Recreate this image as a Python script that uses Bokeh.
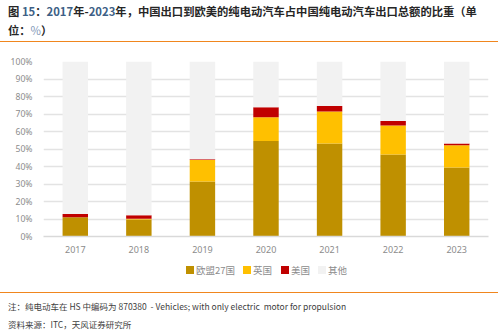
from bokeh.plotting import figure
from bokeh.models import ColumnDataSource, Div, PrintfTickFormatter, FixedTicker, Range1d
from bokeh.layouts import column
from bokeh.embed import file_html
from bokeh.resources import INLINE

years = ["2017", "2018", "2019", "2020", "2021", "2022", "2023"]
eu27 = [11.0, 9.7, 31.5, 54.6, 53.2, 46.9, 39.5]
uk = [0.0, 0.4, 12.2, 13.5, 18.3, 16.6, 12.6]
us = [1.8, 2.1, 0.5, 5.7, 3.1, 2.5, 1.1]
other = [round(100 - a - b - c, 1) for a, b, c in zip(eu27, uk, us)]
series = ["欧盟27国", "英国", "美国", "其他"]
colors = ["#bf9000", "#ffc000", "#c00000", "#f2f2f2"]

FONT = "'Noto Sans CJK SC', 'Noto Sans', sans-serif"

title_html = (
    f'<div style="font-family:{FONT};font-size:11.3px;font-weight:bold;color:#262626;'
    'line-height:19px;padding:2px 0 0 8px;white-space:nowrap;">'
    '图 <span style="color:#3d5f86">15</span>：<span style="color:#3d5f86">2017</span>年-'
    '<span style="color:#3d5f86">2023</span>年，中国出口到欧美的纯电动汽车占中国纯电动汽车出口总额的比重（单<br>'
    '位：<span style="color:#7f98b8;font-weight:normal">%</span>）</div>'
)
title_div = Div(text=title_html, width=498, height=42,
                styles={"border-bottom": "1.5px solid #f0861e", "box-sizing": "border-box",
                        "margin": "0", "padding": "0"})

src = ColumnDataSource(dict(year=years, eu27=eu27, uk=uk, us=us, other=other))

p = figure(x_range=years, y_range=Range1d(0, 100), width=498, height=220,
           output_backend="svg", toolbar_location=None,
           min_border_left=43, min_border_right=10, min_border_top=19, min_border_bottom=26)
renderers = p.vbar_stack(["eu27", "uk", "us", "other"], x="year", width=0.4, color=colors,
                         source=src, line_width=0)
p.outline_line_color = None
p.background_fill_color = "white"
p.border_fill_color = "white"
p.xgrid.grid_line_color = None
p.ygrid.grid_line_color = "#e3e3e3"
p.ygrid.grid_line_width = 1.5
p.yaxis.ticker = FixedTicker(ticks=list(range(0, 101, 10)))
p.yaxis.formatter = PrintfTickFormatter(format="%d%%")
p.yaxis.axis_line_color = None
p.yaxis.major_tick_line_color = None
p.yaxis.minor_tick_line_color = None
p.yaxis.major_label_text_color = "#8c8c8c"
p.yaxis.major_label_text_font_size = "8.6px"
p.yaxis.major_label_text_font = "Noto Sans"
p.yaxis.major_label_standoff = 5
p.xaxis.axis_line_color = "#d9d9d9"
p.xaxis.axis_line_width = 1.5
p.xaxis.major_tick_line_color = None
p.xaxis.minor_tick_line_color = None
p.xaxis.major_label_text_color = "#8c8c8c"
p.xaxis.major_label_text_font_size = "9px"
p.xaxis.major_label_text_font = "Noto Sans"
p.xaxis.major_label_standoff = 3
p.x_range.range_padding = 0.0

# legend drawn as real HTML text below the chart
item_gaps = [0, 8, 9, 8]
legend_items = "".join(
    f'<span style="display:inline-flex;align-items:center;margin-left:{g}px;">'
    f'<span style="display:inline-block;width:8px;height:8px;background:{c};margin-right:2px;"></span>'
    f'{s}</span>'
    for s, c, g in zip(series, colors, item_gaps)
)
legend_html = (
    f'<div style="font-family:{FONT};font-size:9.5px;color:#8c8c8c;padding:1px 0 0 186px;'
    f'line-height:14px;white-space:nowrap;display:flex;">{legend_items}</div>'
)
legend_div = Div(text=legend_html, width=498, height=30,
                 styles={"margin": "0", "padding": "0"})

note_html = (
    f'<div style="font-family:{FONT};font-size:8.5px;color:#404040;padding:4px 0 0 8px;'
    'line-height:18px;white-space:nowrap;">'
    '注：纯电动车在 HS 中编码为 870380&nbsp;&nbsp;- Vehicles; with only electric&nbsp; motor for propulsion<br>'
    '资料来源：ITC，天风证券研究所</div>'
)
note_div = Div(text=note_html, width=498, height=39,
               styles={"border-top": "1.5px solid #f0861e", "box-sizing": "border-box",
                       "margin": "0", "padding": "0"})

layout = column(title_div, p, legend_div, note_div, spacing=0)
open("out.html", "w").write(file_html(layout, INLINE))
